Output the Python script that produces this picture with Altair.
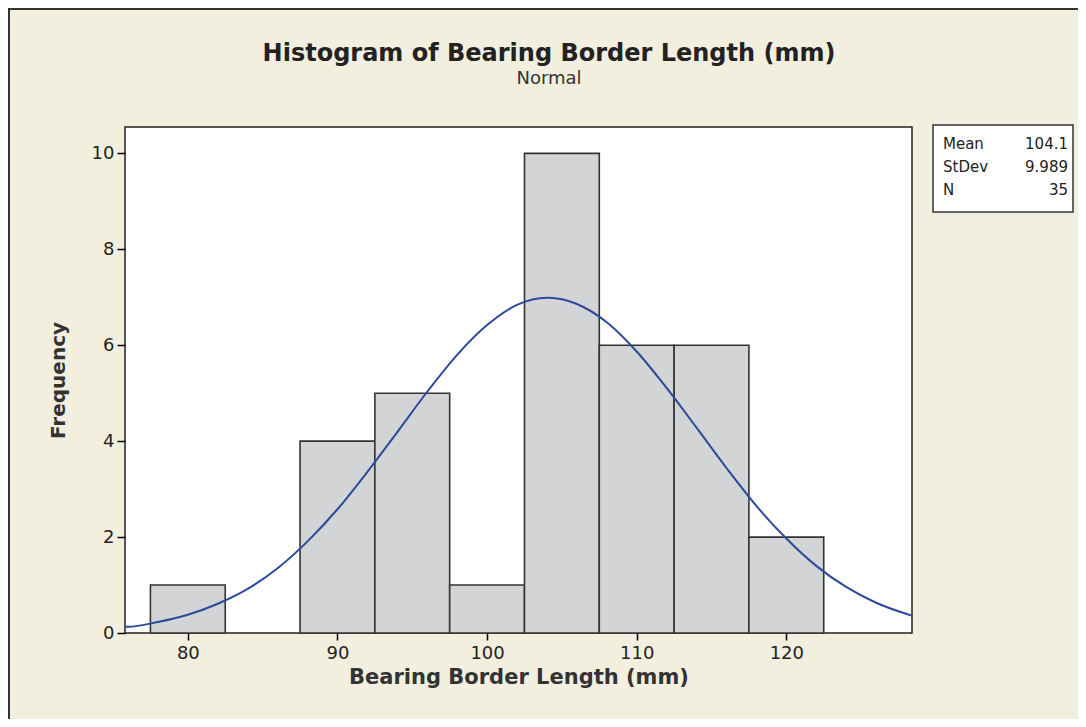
import altair as alt
import pandas as pd

# Histogram bins (mm) and frequencies
bin_starts = [77.5, 87.5, 92.5, 97.5, 102.5, 107.5, 112.5, 117.5]
bin_ends = [82.5, 92.5, 97.5, 102.5, 107.5, 112.5, 117.5, 122.5]
counts = [1, 4, 5, 1, 10, 6, 6, 2]

# Fitted normal curve (x in mm, y in frequency)
curve_x = [75.8, 76, 78, 80, 82, 84, 86, 88, 90, 92, 94, 96, 98, 100, 102, 104,
           104.1, 106, 108, 110, 112, 114, 116, 118, 120, 122, 124, 126, 128, 128.4]
curve_y = [0.13, 0.13, 0.23, 0.38, 0.61, 0.92, 1.35, 1.91, 2.58, 3.36, 4.19, 5.03,
           5.80, 6.42, 6.84, 6.99, 6.99, 6.86, 6.48, 5.87, 5.11, 4.28, 3.44, 2.65,
           1.97, 1.40, 0.96, 0.63, 0.40, 0.36]

x_ticks = [80, 90, 100, 110, 120]
y_ticks = [0, 2, 4, 6, 8, 10]

stat_labels = ["Mean", "StDev", "N"]
stat_values = ["104.1", "9.989", "35"]

title_text = "Histogram of Bearing Border Length (mm)"
subtitle_text = "Normal"

W, H = 787, 506
FONT = "DejaVu Sans"
BG = "#f3efdf"

bars_df = pd.DataFrame({"start": bin_starts, "end": bin_ends, "count": counts})
curve_df = pd.DataFrame({"x": curve_x, "y": curve_y})
one = pd.DataFrame({"a": [0]})

xscale = alt.Scale(domain=[75.8, 128.4], nice=False, zero=False)
yscale = alt.Scale(domain=[0, 10.55], nice=False)

xaxis = alt.Axis(values=x_ticks, title="Bearing Border Length (mm)", grid=False,
                 domain=False, tickColor="black", tickSize=7, tickWidth=1.5,
                 labelFontSize=18, labelColor="#222", labelPadding=4,
                 titleFontSize=21, titleFontWeight="bold", titleColor="#333",
                 titlePadding=4, labelFont=FONT, titleFont=FONT)
yaxis = alt.Axis(values=y_ticks, title="Frequency", grid=False, domain=False,
                 tickColor="black", tickSize=8, tickWidth=1.5, labelFontSize=18,
                 labelColor="#222", labelPadding=3, titleFontSize=20,
                 titleFontWeight="bold", titleColor="#333", titlePadding=23,
                 labelFont=FONT, titleFont=FONT)

bars = alt.Chart(bars_df).mark_rect(fill="#d3d4d6", stroke="#333333", strokeWidth=1.6).encode(
    x=alt.X("start:Q", scale=xscale, axis=xaxis),
    x2="end:Q",
    y=alt.Y("count:Q", scale=yscale, axis=yaxis),
    y2=alt.datum(0),
)

curve = alt.Chart(curve_df).mark_line(color="#2b4a9b", strokeWidth=2, interpolate="monotone").encode(
    x=alt.X("x:Q", scale=xscale),
    y=alt.Y("y:Q", scale=yscale),
)

layers = [bars, curve]

# Statistics box (outside the plot on the right)
layers.append(alt.Chart(one).mark_rect(fill="white", stroke="#333333", strokeWidth=1.5).encode(
    x=alt.value(808), x2=alt.value(948), y=alt.value(-2), y2=alt.value(85)))
row_y = [17, 40, 63]
for lab, val, yy in zip(stat_labels, stat_values, row_y):
    layers.append(alt.Chart(one).mark_text(
        text=lab, align="left", baseline="middle", font=FONT, fontSize=15, color="#222"
    ).encode(x=alt.value(818), y=alt.value(yy)))
    layers.append(alt.Chart(one).mark_text(
        text=val, align="right", baseline="middle", font=FONT, fontSize=15, color="#222"
    ).encode(x=alt.value(943), y=alt.value(yy)))

# Title and subtitle as text
layers.append(alt.Chart(one).mark_text(
    text=title_text, align="center", baseline="middle", font=FONT, fontSize=24,
    fontWeight="bold", color="#222").encode(x=alt.value(424), y=alt.value(-73)))
layers.append(alt.Chart(one).mark_text(
    text=subtitle_text, align="center", baseline="middle", font=FONT, fontSize=18,
    color="#333").encode(x=alt.value(424), y=alt.value(-48)))

# Outer frame lines (top and left)
layers.append(alt.Chart(one).mark_rule(color="#333333", strokeWidth=2).encode(
    x=alt.value(-117), x2=alt.value(953), y=alt.value(-118)))
layers.append(alt.Chart(one).mark_rule(color="#333333", strokeWidth=2).encode(
    x=alt.value(-116), y=alt.value(-119), y2=alt.value(592)))

chart = alt.layer(*layers).properties(
    width=W, height=H,
    background=BG,
    padding={"left": 117, "top": 119, "right": 166, "bottom": 86},
    autosize=alt.AutoSizeParams(type="none"),
).configure_view(
    fill="white", stroke="#222222", strokeWidth=1.5
)

chart.save("out.html", embed_options={"renderer": "svg", "actions": False})
